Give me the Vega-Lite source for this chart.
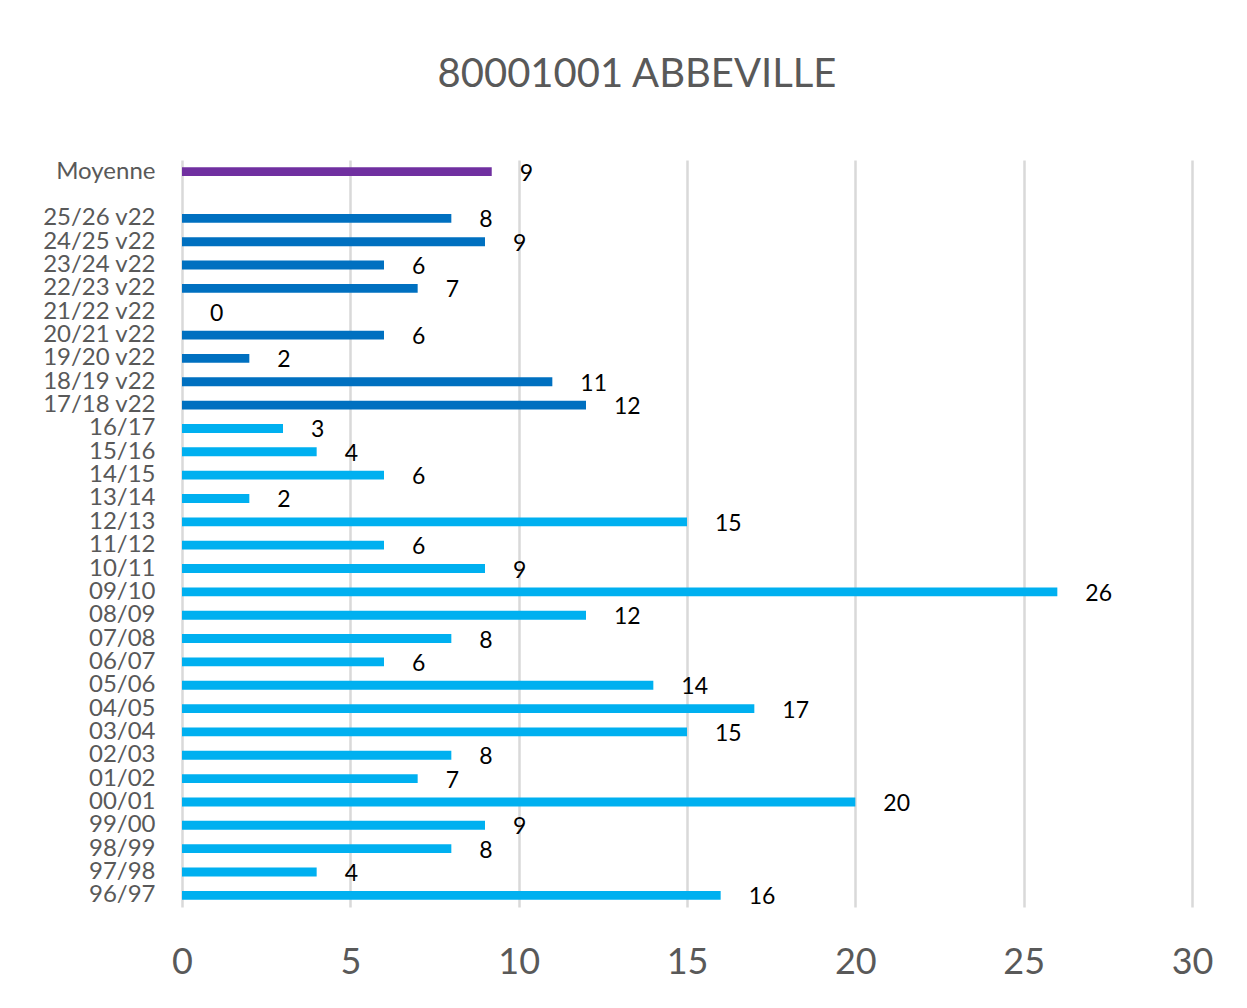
{
  "$schema": "https://vega.github.io/schema/vega-lite/v6.json",
  "autosize": {"type": "none"},
  "width": 1010,
  "height": 747,
  "padding": {"left": 182, "top": 160, "right": 55, "bottom": 101},
  "background": "white",
  "title": {
    "text": "80001001 ABBEVILLE",
    "font": "Lato",
    "fontSize": 40,
    "fontWeight": "normal",
    "color": "#595959",
    "anchor": "middle",
    "baseline": "alphabetic",
    "dx": -50,
    "offset": 32
  },
  "config": {
    "view": {"stroke": null},
    "font": "Lato"
  },
  "data": {
    "values": [
      {"saison": "Moyenne", "valeur": 9.2, "groupe": "moyenne"},
      {"saison": "25/26 v22", "valeur": 8, "groupe": "v22"},
      {"saison": "24/25 v22", "valeur": 9, "groupe": "v22"},
      {"saison": "23/24 v22", "valeur": 6, "groupe": "v22"},
      {"saison": "22/23 v22", "valeur": 7, "groupe": "v22"},
      {"saison": "21/22 v22", "valeur": 0, "groupe": "v22"},
      {"saison": "20/21 v22", "valeur": 6, "groupe": "v22"},
      {"saison": "19/20 v22", "valeur": 2, "groupe": "v22"},
      {"saison": "18/19 v22", "valeur": 11, "groupe": "v22"},
      {"saison": "17/18 v22", "valeur": 12, "groupe": "v22"},
      {"saison": "16/17", "valeur": 3, "groupe": "ancien"},
      {"saison": "15/16", "valeur": 4, "groupe": "ancien"},
      {"saison": "14/15", "valeur": 6, "groupe": "ancien"},
      {"saison": "13/14", "valeur": 2, "groupe": "ancien"},
      {"saison": "12/13", "valeur": 15, "groupe": "ancien"},
      {"saison": "11/12", "valeur": 6, "groupe": "ancien"},
      {"saison": "10/11", "valeur": 9, "groupe": "ancien"},
      {"saison": "09/10", "valeur": 26, "groupe": "ancien"},
      {"saison": "08/09", "valeur": 12, "groupe": "ancien"},
      {"saison": "07/08", "valeur": 8, "groupe": "ancien"},
      {"saison": "06/07", "valeur": 6, "groupe": "ancien"},
      {"saison": "05/06", "valeur": 14, "groupe": "ancien"},
      {"saison": "04/05", "valeur": 17, "groupe": "ancien"},
      {"saison": "03/04", "valeur": 15, "groupe": "ancien"},
      {"saison": "02/03", "valeur": 8, "groupe": "ancien"},
      {"saison": "01/02", "valeur": 7, "groupe": "ancien"},
      {"saison": "00/01", "valeur": 20, "groupe": "ancien"},
      {"saison": "99/00", "valeur": 9, "groupe": "ancien"},
      {"saison": "98/99", "valeur": 8, "groupe": "ancien"},
      {"saison": "97/98", "valeur": 4, "groupe": "ancien"},
      {"saison": "96/97", "valeur": 16, "groupe": "ancien"}
    ]
  },
  "encoding": {
    "y": {
      "field": "saison",
      "type": "nominal",
      "sort": null,
      "scale": {
        "domain": ["Moyenne", " ", "25/26 v22", "24/25 v22", "23/24 v22", "22/23 v22", "21/22 v22", "20/21 v22", "19/20 v22", "18/19 v22", "17/18 v22", "16/17", "15/16", "14/15", "13/14", "12/13", "11/12", "10/11", "09/10", "08/09", "07/08", "06/07", "05/06", "04/05", "03/04", "02/03", "01/02", "00/01", "99/00", "98/99", "97/98", "96/97"],
        "paddingInner": 0.62,
        "paddingOuter": 0.31
      },
      "axis": {
        "title": null,
        "ticks": false,
        "domain": false,
        "labelFont": "Lato",
        "labelFontSize": 24,
        "labelColor": "#595959",
        "labelPadding": 27
      }
    },
    "x": {
      "field": "valeur",
      "type": "quantitative",
      "scale": {"domain": [0, 30], "nice": false},
      "axis": {
        "title": null,
        "values": [0, 5, 10, 15, 20, 25, 30],
        "ticks": false,
        "domain": false,
        "grid": true,
        "gridColor": "#d9d9d9",
        "gridWidth": 2.5,
        "labelFlush": false,
        "labelFont": "Lato",
        "labelFontSize": 36,
        "labelColor": "#595959",
        "labelPadding": 38
      }
    }
  },
  "layer": [
    {
      "mark": {"type": "bar"},
      "encoding": {
        "color": {
          "field": "groupe",
          "type": "nominal",
          "scale": {"domain": ["moyenne", "v22", "ancien"], "range": ["#7030a0", "#0070c0", "#00b0f0"]},
          "legend": null
        }
      }
    },
    {
      "mark": {"type": "text", "align": "left", "baseline": "middle", "dx": 28, "dy": 2, "font": "Lato", "fontSize": 23, "color": "#000000"},
      "encoding": {
        "text": {"field": "valeur", "type": "quantitative", "format": ".0f"}
      }
    }
  ]
}
